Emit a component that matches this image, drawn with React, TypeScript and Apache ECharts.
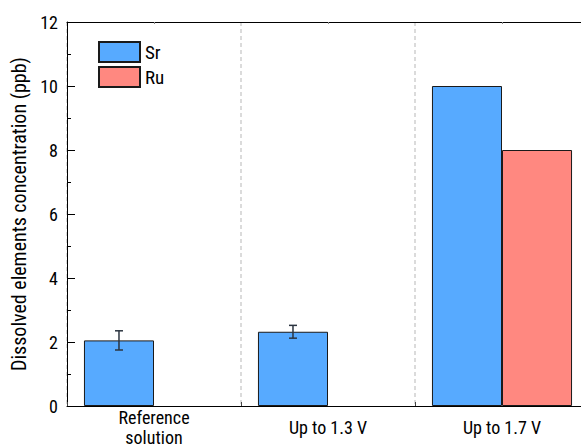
import React, { useEffect, useRef } from "react";
import * as echarts from "echarts";

const categories = ["Reference\nsolution", "Up to 1.3 V", "Up to 1.7 V"];
const srValues = [2.05, 2.32, 10.0];
const ruValues: (number | null)[] = [null, null, 8.0];
const srErrors: (number | null)[] = [0.3, 0.2, null];
const yTicks = { min: 0, max: 12, interval: 2 };

const FONT = "'Roboto Condensed', 'Liberation Sans', Arial, sans-serif";

export default function App() {
  const ref = useRef<HTMLDivElement>(null);
  useEffect(() => {
    if (!ref.current) return;
    const chart = echarts.init(ref.current, null, { renderer: "svg" });
    const errData = srValues
      .map((v, i) => (srErrors[i] != null ? [i, v - (srErrors[i] as number), v + (srErrors[i] as number)] : null))
      .filter((d) => d !== null);
    chart.setOption({
      animation: false,
      backgroundColor: "#fff",
      textStyle: { fontFamily: FONT },
      legend: {
        orient: "vertical",
        left: 93,
        top: 36,
        itemWidth: 41,
        itemHeight: 20,
        itemGap: 3,
        icon: "rect",
        textStyle: { fontSize: 19, color: "#000", fontFamily: FONT },
        data: ["Sr", "Ru"],
      },
      grid: { left: 67, top: 22, width: 522, height: 384, outerBoundsMode: "none" },
      xAxis: [
        {
          type: "category",
          data: categories,
          position: "bottom",
          axisLine: { lineStyle: { color: "#000", width: 1 } },
          axisTick: { show: true, inside: true, length: 4, lineStyle: { color: "#444" } },
          splitLine: { show: true, lineStyle: { color: "#d0d0d0", type: [4, 3], width: 1.5 } },
          axisLabel: {
            color: "#000",
            fontSize: 18,
            fontFamily: FONT,
            margin: 21,
            verticalAlign: "middle",
            lineHeight: 20,
            interval: 0,
          },
        },
        {
          type: "category",
          data: categories,
          position: "top",
          axisLine: { lineStyle: { color: "#000", width: 1 } },
          axisTick: { show: true, inside: true, length: 2, alignWithLabel: true, lineStyle: { color: "#888" } },
          axisLabel: { show: false },
        },
      ],
      yAxis: {
        type: "value",
        min: yTicks.min,
        max: yTicks.max,
        interval: yTicks.interval,
        name: "Dissolved elements concentration (ppb)",
        nameLocation: "middle",
        nameRotate: 90,
        nameGap: 36,
        nameTextStyle: { fontSize: 20, color: "#000", fontFamily: FONT },
        axisLine: { show: true, lineStyle: { color: "#000", width: 1 } },
        axisTick: { show: true, inside: true, length: 8, lineStyle: { color: "#000" } },
        minorTick: { show: true, splitNumber: 2, length: 4, lineStyle: { color: "#000" } },
        splitLine: { show: false },
        axisLabel: { color: "#000", fontSize: 18, fontFamily: FONT, margin: 9 },
      },
      series: [
        {
          name: "Sr",
          type: "bar",
          data: srValues,
          barGap: "0%",
          barCategoryGap: "19.5%",
          itemStyle: { color: "#57aaff", borderColor: "#1a1a1a", borderWidth: 1 },
        },
        {
          name: "Ru",
          type: "bar",
          data: ruValues,
          barGap: "0%",
          barCategoryGap: "19.5%",
          itemStyle: { color: "#ff8880", borderColor: "#1a1a1a", borderWidth: 1 },
        },
        {
          name: "err",
          type: "custom",
          data: errData,
          z: 10,
          renderItem: (params: any, api: any) => {
            const idx = api.value(0);
            const lo = api.coord([idx, api.value(1)]);
            const hi = api.coord([idx, api.value(2)]);
            const band = api.size([1, 0])[0];
            const x = lo[0] - (band * 0.805) / 4;
            const cap = 4;
            const style = { stroke: "#2b3440", lineWidth: 1.5 };
            return {
              type: "group",
              children: [
                { type: "line", shape: { x1: x, y1: lo[1], x2: x, y2: hi[1] }, style },
                { type: "line", shape: { x1: x - cap, y1: lo[1], x2: x + cap, y2: lo[1] }, style },
                { type: "line", shape: { x1: x - cap, y1: hi[1], x2: x + cap, y2: hi[1] }, style },
              ],
            };
          },
        },
      ],
    });
    return () => chart.dispose();
  }, []);
  return (
    <div
      ref={ref}
      style={{ position: "fixed", left: 0, top: 0, width: 581, height: 448, background: "#fff" }}
    />
  );
}
